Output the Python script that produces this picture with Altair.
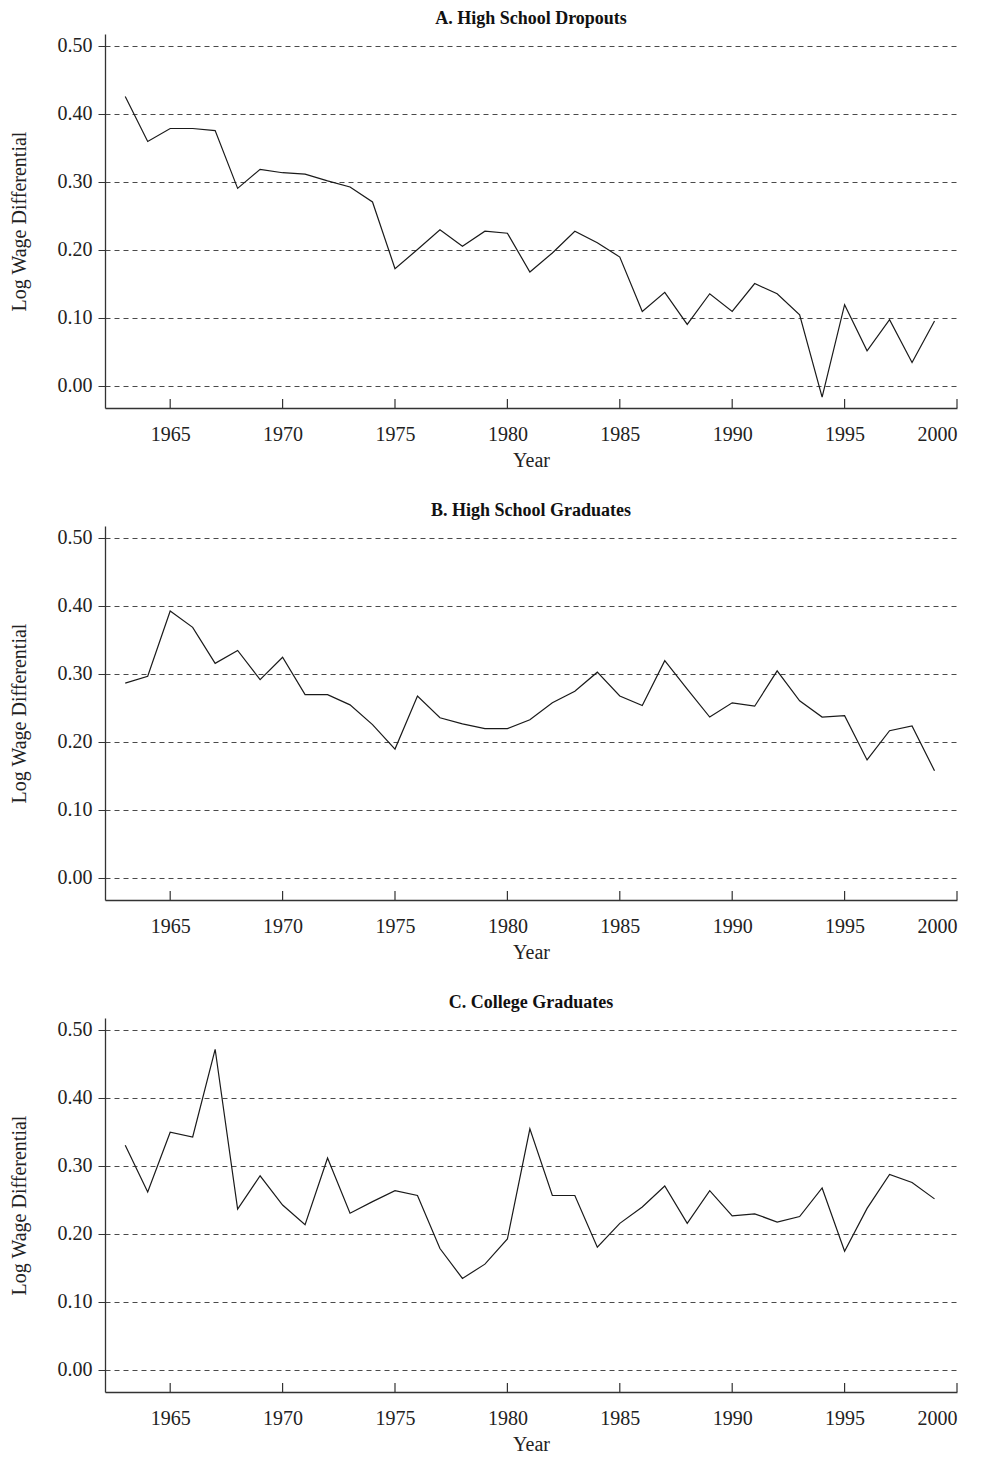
import altair as alt
import pandas as pd

years = list(range(1963, 2000))

dropouts = [0.425, 0.359, 0.378, 0.378, 0.375, 0.290, 0.318, 0.313, 0.311, 0.301,
            0.292, 0.270, 0.172, 0.200, 0.229, 0.205, 0.227, 0.224, 0.167, 0.195,
            0.227, 0.210, 0.189, 0.109, 0.137, 0.090, 0.135, 0.109, 0.150, 0.135,
            0.104, -0.017, 0.119, 0.051, 0.097, 0.034, 0.095]

hs_grads = [0.286, 0.296, 0.392, 0.368, 0.315, 0.334, 0.291, 0.324, 0.269, 0.269,
            0.254, 0.225, 0.189, 0.267, 0.235, 0.226, 0.219, 0.219, 0.232, 0.257,
            0.274, 0.302, 0.267, 0.253, 0.319, 0.277, 0.236, 0.257, 0.252, 0.304,
            0.260, 0.236, 0.238, 0.173, 0.216, 0.223, 0.157]

college = [0.330, 0.261, 0.349, 0.342, 0.471, 0.236, 0.285, 0.242, 0.213, 0.311,
           0.230, 0.247, 0.263, 0.256, 0.178, 0.134, 0.155, 0.192, 0.354, 0.256,
           0.256, 0.180, 0.215, 0.239, 0.270, 0.215, 0.263, 0.226, 0.229, 0.217,
           0.225, 0.267, 0.174, 0.237, 0.287, 0.275, 0.251]

titles = ["A. High School Dropouts", "B. High School Graduates", "C. College Graduates"]
x_ticks = [1965, 1970, 1975, 1980, 1985, 1990, 1995, 2000]
y_ticks = [0.0, 0.1, 0.2, 0.3, 0.4, 0.5]

FONT = "Liberation Serif"
W, H = 852, 374
TICK_LEN = 9

tick_df = pd.DataFrame({"year": x_ticks})


def panel(values, title):
    df = pd.DataFrame({"year": years, "value": values})
    xs = alt.Scale(domain=[1962.1, 2000], nice=False, zero=False)
    ys = alt.Scale(domain=[-0.033, 0.517], nice=False, zero=False)
    line = alt.Chart(df).mark_line(color="#1a1a1a", strokeWidth=1.2).encode(
        x=alt.X("year:Q", scale=xs, title="Year",
                axis=alt.Axis(values=x_ticks, format="d", tickSize=0, labelPadding=16,
                              grid=False, domainColor="#333", domainWidth=1.3,
                              titlePadding=6)),
        y=alt.Y("value:Q", scale=ys, title="Log Wage Differential",
                axis=alt.Axis(values=y_ticks, format=".2f", tickSize=7, labelPadding=6,
                              tickColor="#333", grid=True, gridDash=[5, 4],
                              gridColor="#4a4a4a", gridWidth=1, domainColor="#333",
                              domainWidth=1.3, titlePadding=28)),
    )
    ticks = alt.Chart(tick_df).mark_rule(color="#333", strokeWidth=1.2).encode(
        x=alt.X("year:Q", scale=xs),
        y=alt.value(H),
        y2=alt.value(H - TICK_LEN),
    )
    return alt.layer(line, ticks).properties(
        width=W, height=H,
        title=alt.TitleParams(title, font=FONT, fontSize=18, fontWeight="bold",
                              anchor="middle", offset=6, color="#111"),
    )


chart = alt.vconcat(
    panel(dropouts, titles[0]),
    panel(hs_grads, titles[1]),
    panel(college, titles[2]),
    spacing=32,
).properties(padding={"left": 1, "top": 2, "right": 5, "bottom": 5}).configure_view(
    stroke=None
).configure_axis(
    labelFont=FONT, titleFont=FONT, labelFontSize=20, titleFontSize=20,
    labelColor="#222", titleColor="#222", titleFontWeight="normal",
)

chart.save("out.html", embed_options={"renderer": "svg", "actions": False})
